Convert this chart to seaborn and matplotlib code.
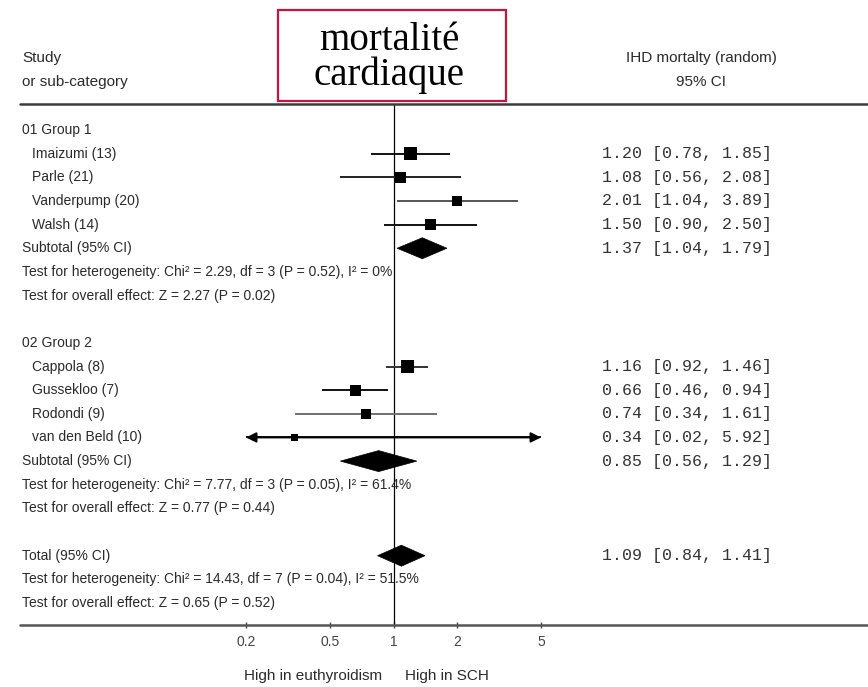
import matplotlib
matplotlib.use("Agg")
import numpy as np
import pandas as pd
import matplotlib.pyplot as plt
from matplotlib.patches import Rectangle, Polygon
from matplotlib.lines import Line2D
from matplotlib.ticker import NullLocator
from matplotlib.transforms import blended_transform_factory
import seaborn as sns

# ---- data -------------------------------------------------------------
group_names = ["01 Group 1", "02 Group 2"]

studies_g1 = ["Imaizumi (13)", "Parle (21)", "Vanderpump (20)", "Walsh (14)"]
est_g1 = [1.20, 1.08, 2.01, 1.50]
lo_g1 = [0.78, 0.56, 1.04, 0.90]
hi_g1 = [1.85, 2.08, 3.89, 2.50]

studies_g2 = ["Cappola (8)", "Gussekloo (7)", "Rodondi (9)", "van den Beld (10)"]
est_g2 = [1.16, 0.66, 0.74, 0.34]
lo_g2 = [0.92, 0.46, 0.34, 0.02]
hi_g2 = [1.46, 0.94, 1.61, 5.92]

subtotal_g1 = (1.37, 1.04, 1.79)
subtotal_g2 = (0.85, 0.56, 1.29)
total_all = (1.09, 0.84, 1.41)

het_g1 = "Test for heterogeneity: Chi² = 2.29, df = 3 (P = 0.52), I² = 0%"
eff_g1 = "Test for overall effect: Z = 2.27 (P = 0.02)"
het_g2 = "Test for heterogeneity: Chi² = 7.77, df = 3 (P = 0.05), I² = 61.4%"
eff_g2 = "Test for overall effect: Z = 0.77 (P = 0.44)"
het_all = "Test for heterogeneity: Chi² = 14.43, df = 7 (P = 0.04), I² = 51.5%"
eff_all = "Test for overall effect: Z = 0.65 (P = 0.52)"

tick_values = [0.2, 0.5, 1, 2, 5]
tick_labels = ["0.2", "0.5", "1", "2", "5"]

# square side (px) of each study box, and CI line shade
box_px = [13, 11, 10, 11, 13, 11, 10, 7]
line_shade = ["#111111", "#222222", "#555555", "#111111",
              "#333333", "#111111", "#707070", "#111111"]

# ---- figure -----------------------------------------------------------
sns.set_theme(style="white")
plt.rcParams["font.family"] = ["Liberation Sans", "DejaVu Sans"]
MONO = "Liberation Mono"
SERIF = "Liberation Serif"
TXT = "#2a2a2a"

W, H = 868, 687
fig = plt.figure(figsize=(W / 100, H / 100), dpi=100)
fig.patch.set_facecolor("white")


def fx(px):
    return px / W


def fy(py):
    return 1 - py / H


ROW0, STEP = 130, 23.65
TOP, BOTTOM = 104, 625
X_LO, X_HI = 0.2, 5.0

ax = fig.add_axes([fx(246), fy(BOTTOM), (541 - 246) / W, (BOTTOM - TOP) / H])
ax.patch.set_alpha(0)
ax.set_xscale("log")
ax.set_xlim(X_LO, X_HI)
ax.set_ylim((BOTTOM - ROW0) / STEP, (TOP - ROW0) / STEP)
for sp in ax.spines.values():
    sp.set_visible(False)

row_tr = blended_transform_factory(fig.transFigure, ax.transData)

# ---- layout of rows ---------------------------------------------------
rows = []
r = 0
groups = [
    (group_names[0], studies_g1, est_g1, lo_g1, hi_g1, subtotal_g1, het_g1, eff_g1),
    (group_names[1], studies_g2, est_g2, lo_g2, hi_g2, subtotal_g2, het_g2, eff_g2),
]
study_records = []
summary_records = []
for gname, names, est, lo, hi, sub, het, eff in groups:
    rows.append((r, gname, 22))
    r += 1
    for n, e, l, h in zip(names, est, lo, hi):
        rows.append((r, n, 32))
        study_records.append(dict(name=n, est=e, lo=l, hi=h, row=r))
        r += 1
    rows.append((r, "Subtotal (95% CI)", 22))
    summary_records.append(dict(est=sub[0], lo=sub[1], hi=sub[2], row=r))
    r += 1
    rows.append((r, het, 22))
    r += 1
    rows.append((r, eff, 22))
    r += 2
rows.append((r, "Total (95% CI)", 22))
summary_records.append(dict(est=total_all[0], lo=total_all[1], hi=total_all[2], row=r))
rows.append((r + 1, het_all, 22))
rows.append((r + 2, eff_all, 22))

df = pd.DataFrame(study_records)
df["area"] = [(p * 0.72) ** 2 for p in box_px]
sums = pd.DataFrame(summary_records)

# ---- marks ------------------------------------------------------------
ax.axvline(1, color="black", lw=0.9, zorder=1)

for (_, s), shade in zip(df.iterrows(), line_shade):
    a = max(s["lo"], X_LO)
    b = min(s["hi"], X_HI)
    ax.hlines(s["row"], a, b, color=shade, lw=1.4, zorder=2)
    if s["lo"] < X_LO:
        ax.annotate("", xy=(X_LO, s["row"]), xytext=(s["est"], s["row"]),
                    arrowprops=dict(arrowstyle="-|>", color="black", lw=1.4,
                                    mutation_scale=15, shrinkA=0, shrinkB=0))
    if s["hi"] > X_HI:
        ax.annotate("", xy=(X_HI, s["row"]), xytext=(s["est"], s["row"]),
                    arrowprops=dict(arrowstyle="-|>", color="black", lw=1.4,
                                    mutation_scale=15, shrinkA=0, shrinkB=0))

sns.scatterplot(data=df, x="est", y="row", marker="s", s=df["area"].values,
                color="black", linewidth=0, ax=ax, legend=False, zorder=3)

half_h = 10.5 / STEP
for _, s in sums.iterrows():
    y = s["row"]
    ax.add_patch(Polygon([(s["lo"], y), (s["est"], y - half_h),
                          (s["hi"], y), (s["est"], y + half_h)],
                         closed=True, fc="black", ec="black", lw=0.5, zorder=3))

# ---- axis -------------------------------------------------------------
ax.set_xticks(tick_values)
ax.set_xticklabels(tick_labels)
ax.xaxis.set_minor_locator(NullLocator())
ax.set_yticks([])
ax.set_xlabel("")
ax.set_ylabel("")
ax.tick_params(axis="x", bottom=True, direction="inout", length=5, width=1,
               color="#444444", labelsize=10, labelcolor="#444444", pad=5)

fig.add_artist(Line2D([fx(20), 1], [fy(TOP)] * 2, color="#3c3c3c", lw=1.8))
fig.add_artist(Line2D([fx(20), 1], [fy(BOTTOM)] * 2, color="#555555", lw=1.8))

ax.annotate("High in euthyroidism", xy=(1, 0), xycoords=("data", "axes fraction"),
            xytext=(-8.5, -36.5), textcoords="offset points",
            ha="right", va="center", fontsize=11, color=TXT)
ax.annotate("High in SCH", xy=(1, 0), xycoords=("data", "axes fraction"),
            xytext=(8.5, -36.5), textcoords="offset points",
            ha="left", va="center", fontsize=11, color=TXT)

# ---- text columns -----------------------------------------------------
for rr, label, xpx in rows:
    ax.text(fx(xpx), rr, label, transform=row_tr, ha="left", va="center",
            fontsize=10, color=TXT, clip_on=False)

for _, s in pd.concat([df, sums]).iterrows():
    ax.text(fx(602), s["row"], f"{s['est']:.2f} [{s['lo']:.2f}, {s['hi']:.2f}]",
            transform=row_tr, ha="left", va="center", family=MONO,
            fontsize=12, color="#333333", clip_on=False)

fig.text(fx(22), fy(58), "Study", ha="left", va="center", fontsize=11, color=TXT)
fig.text(fx(22), fy(82), "or sub-category", ha="left", va="center", fontsize=11, color=TXT)
fig.text(fx(701), fy(58), "IHD mortalty (random)", ha="center", va="center",
         fontsize=11, color=TXT)
fig.text(fx(701), fy(82), "95% CI", ha="center", va="center", fontsize=11, color=TXT)

# ---- title box --------------------------------------------------------
fig.add_artist(Rectangle((fx(278), fy(101)), (506 - 278) / W, (101 - 10) / H,
                         transform=fig.transFigure, fill=False,
                         ec="#c0183c", lw=1.6))
fig.text(fx(389), fy(50), "mortalité", ha="center", va="baseline",
         family=SERIF, fontsize=28, color="black")
fig.text(fx(389), fy(85), "cardiaque", ha="center", va="baseline",
         family=SERIF, fontsize=28, color="black")

fig.savefig("out.png", dpi=100, facecolor="white")
